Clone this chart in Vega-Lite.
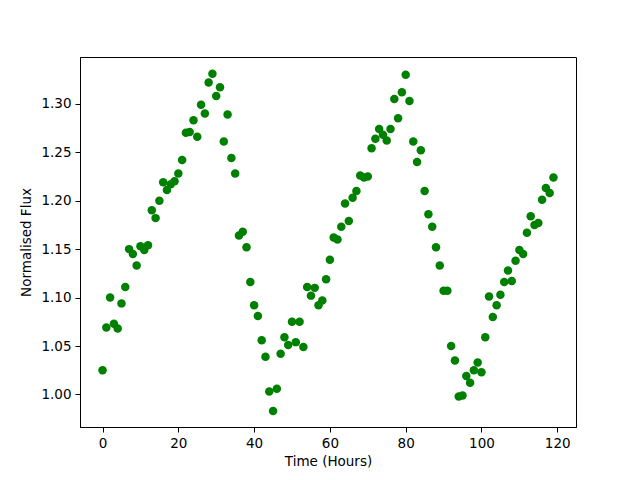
{
  "$schema": "https://vega.github.io/schema/vega-lite/v6.json",
  "width": 496,
  "height": 370,
  "autosize": {"type": "none"},
  "padding": {"left": 80, "top": 57, "right": 64, "bottom": 53},
  "background": "white",
  "config": {
    "view": {"stroke": "black", "strokeWidth": 1},
    "font": "DejaVu Sans",
    "axis": {
      "grid": false,
      "domainColor": "black",
      "domainWidth": 1,
      "tickColor": "black",
      "tickWidth": 1,
      "tickSize": 5,
      "labelFont": "DejaVu Sans",
      "labelFontSize": 13.5,
      "labelColor": "black",
      "labelPadding": 4,
      "titleFont": "DejaVu Sans",
      "titleFontSize": 13.5,
      "titleFontWeight": "normal",
      "titleColor": "black"
    }
  },
  "data": {
    "values": [
      {"t": 0, "f": 1.025}, {"t": 1, "f": 1.069}, {"t": 2, "f": 1.100}, {"t": 3, "f": 1.073},
      {"t": 4, "f": 1.068}, {"t": 5, "f": 1.094}, {"t": 6, "f": 1.111}, {"t": 7, "f": 1.150},
      {"t": 8, "f": 1.145}, {"t": 9, "f": 1.133}, {"t": 10, "f": 1.153}, {"t": 11, "f": 1.149},
      {"t": 12, "f": 1.154}, {"t": 13, "f": 1.190}, {"t": 14, "f": 1.182}, {"t": 15, "f": 1.200},
      {"t": 16, "f": 1.219}, {"t": 17, "f": 1.211}, {"t": 18, "f": 1.217}, {"t": 19, "f": 1.220},
      {"t": 20, "f": 1.228}, {"t": 21, "f": 1.242}, {"t": 22, "f": 1.270}, {"t": 23, "f": 1.271},
      {"t": 24, "f": 1.283}, {"t": 25, "f": 1.266}, {"t": 26, "f": 1.299}, {"t": 27, "f": 1.290},
      {"t": 28, "f": 1.322}, {"t": 29, "f": 1.331}, {"t": 30, "f": 1.308}, {"t": 31, "f": 1.317},
      {"t": 32, "f": 1.261}, {"t": 33, "f": 1.289}, {"t": 34, "f": 1.244}, {"t": 35, "f": 1.228},
      {"t": 36, "f": 1.164}, {"t": 37, "f": 1.168}, {"t": 38, "f": 1.152}, {"t": 39, "f": 1.116},
      {"t": 40, "f": 1.092}, {"t": 41, "f": 1.081}, {"t": 42, "f": 1.056}, {"t": 43, "f": 1.039},
      {"t": 44, "f": 1.003}, {"t": 45, "f": 0.983}, {"t": 46, "f": 1.006}, {"t": 47, "f": 1.042},
      {"t": 48, "f": 1.059}, {"t": 49, "f": 1.051}, {"t": 50, "f": 1.075}, {"t": 51, "f": 1.054},
      {"t": 52, "f": 1.075}, {"t": 53, "f": 1.049}, {"t": 54, "f": 1.111}, {"t": 55, "f": 1.102},
      {"t": 56, "f": 1.110}, {"t": 57, "f": 1.092}, {"t": 58, "f": 1.097}, {"t": 59, "f": 1.119},
      {"t": 60, "f": 1.139}, {"t": 61, "f": 1.162}, {"t": 62, "f": 1.160}, {"t": 63, "f": 1.173},
      {"t": 64, "f": 1.197}, {"t": 65, "f": 1.179}, {"t": 66, "f": 1.203}, {"t": 67, "f": 1.210},
      {"t": 68, "f": 1.226}, {"t": 69, "f": 1.224}, {"t": 70, "f": 1.225}, {"t": 71, "f": 1.254},
      {"t": 72, "f": 1.264}, {"t": 73, "f": 1.274}, {"t": 74, "f": 1.268}, {"t": 75, "f": 1.262},
      {"t": 76, "f": 1.274}, {"t": 77, "f": 1.305}, {"t": 78, "f": 1.285}, {"t": 79, "f": 1.312},
      {"t": 80, "f": 1.330}, {"t": 81, "f": 1.303}, {"t": 82, "f": 1.261}, {"t": 83, "f": 1.240},
      {"t": 84, "f": 1.252}, {"t": 85, "f": 1.210}, {"t": 86, "f": 1.186}, {"t": 87, "f": 1.173},
      {"t": 88, "f": 1.152}, {"t": 89, "f": 1.133}, {"t": 90, "f": 1.107}, {"t": 91, "f": 1.107},
      {"t": 92, "f": 1.050}, {"t": 93, "f": 1.035}, {"t": 94, "f": 0.998}, {"t": 95, "f": 0.999},
      {"t": 96, "f": 1.019}, {"t": 97, "f": 1.012}, {"t": 98, "f": 1.025}, {"t": 99, "f": 1.033},
      {"t": 100, "f": 1.023}, {"t": 101, "f": 1.059}, {"t": 102, "f": 1.101}, {"t": 103, "f": 1.080},
      {"t": 104, "f": 1.092}, {"t": 105, "f": 1.103}, {"t": 106, "f": 1.116}, {"t": 107, "f": 1.128},
      {"t": 108, "f": 1.117}, {"t": 109, "f": 1.138}, {"t": 110, "f": 1.149}, {"t": 111, "f": 1.145},
      {"t": 112, "f": 1.167}, {"t": 113, "f": 1.184}, {"t": 114, "f": 1.175}, {"t": 115, "f": 1.177},
      {"t": 116, "f": 1.201}, {"t": 117, "f": 1.213}, {"t": 118, "f": 1.208}, {"t": 119, "f": 1.224}
    ]
  },
  "mark": {"type": "point", "filled": true, "color": "#008000", "opacity": 1, "size": 72},
  "encoding": {
    "x": {
      "field": "t",
      "type": "quantitative",
      "scale": {"domain": [-5.95, 124.95], "nice": false, "zero": false},
      "axis": {"title": "Time (Hours)", "values": [0, 20, 40, 60, 80, 100, 120], "titlePadding": 5}
    },
    "y": {
      "field": "f",
      "type": "quantitative",
      "scale": {"domain": [0.9664, 1.3483], "nice": false, "zero": false},
      "axis": {"title": "Normalised Flux", "values": [1.0, 1.05, 1.1, 1.15, 1.2, 1.25, 1.3], "format": ".2f", "titlePadding": 7}
    }
  }
}
